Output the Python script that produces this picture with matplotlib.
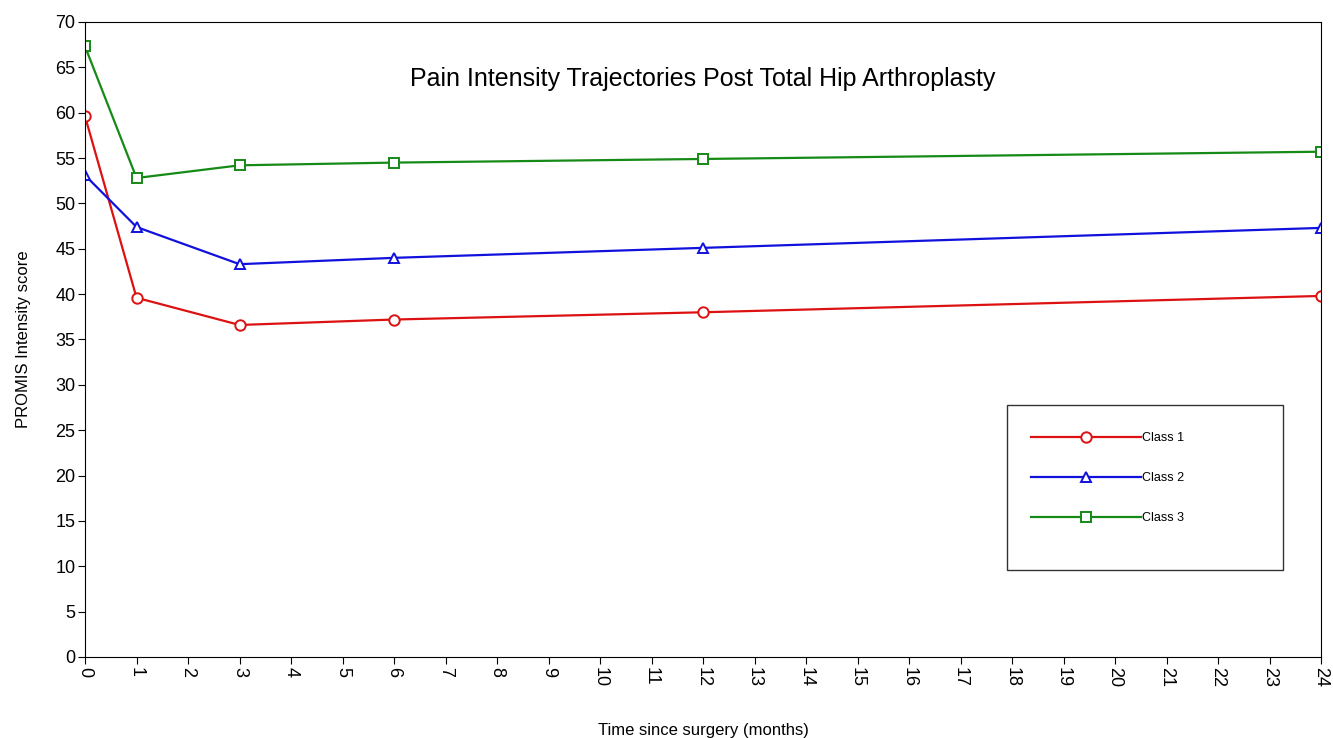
import matplotlib.pyplot as plt
from matplotlib.patches import Rectangle

plt.rcParams['font.family'] = ['Liberation Sans', 'DejaVu Sans']

# Данные
months = [0, 1, 3, 6, 12, 24]
class1 = [59.6, 39.6, 36.6, 37.2, 38.0, 39.8]
class2 = [53.1, 47.4, 43.3, 44.0, 45.1, 47.3]
class3 = [67.3, 52.8, 54.2, 54.5, 54.9, 55.7]
labels = ["Class 1", "Class 2", "Class 3"]
x_ticks = list(range(0, 25))
y_ticks = list(range(0, 71, 5))

fig = plt.figure(figsize=(13.33, 7.38), dpi=100)
ax = fig.add_axes([0.0638, 0.1098, 0.9272, 0.8604])

ax.plot(months, class1, color='#dd1111', lw=1.6, marker='o', ms=7.5,
        mfc='white', mew=1.4, label=labels[0])
ax.plot(months, class2, color='#1111dd', lw=1.6, marker='^', ms=7,
        mfc='white', mew=1.4, label=labels[1])
ax.plot(months, class3, color='#168a16', lw=1.6, marker='s', ms=7,
        mfc='white', mew=1.4, label=labels[2])

ax.set_xlim(0, 24)
ax.set_ylim(0, 70)
ax.set_xticks(x_ticks)
ax.set_yticks(y_ticks)
ax.set_xticklabels([str(t) for t in x_ticks], rotation=-90)
ax.tick_params(direction='out', length=5, labelsize=13, pad=2)

ax.set_xlabel("Time since surgery (months)", fontsize=12, labelpad=26)
ax.set_ylabel("PROMIS Intensity score", fontsize=12, labelpad=17)

ax.text(0.5, 0.91, "Pain Intensity Trajectories Post Total Hip Arthroplasty",
        transform=ax.transAxes, ha='center', va='center', fontsize=18)

# рамка легенды
ax.add_patch(Rectangle((0.746, 0.137), 0.223, 0.26, transform=ax.transAxes,
                       fill=False, edgecolor='#333333', lw=1.0))
ax.legend(loc='upper left', bbox_to_anchor=(0.765, 0.354), frameon=False,
          fontsize=9, handlelength=8.8, handletextpad=0.1, labelspacing=2.25,
          numpoints=1, borderpad=0, borderaxespad=0)

plt.savefig("out.png", dpi=100)
